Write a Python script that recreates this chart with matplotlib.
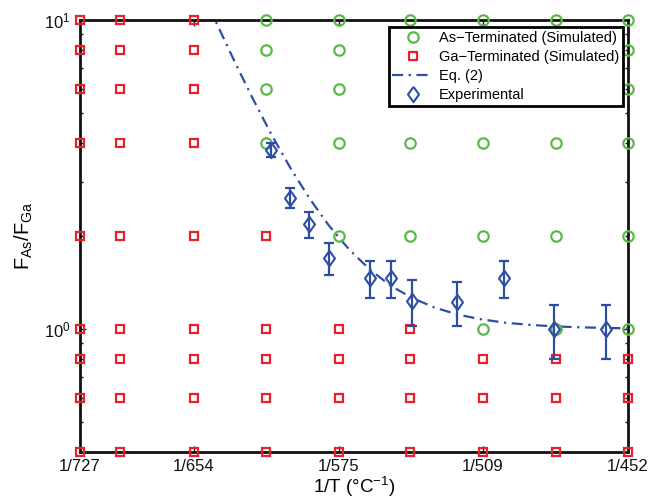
import numpy as np
import matplotlib
matplotlib.use("Agg")
import matplotlib.pyplot as plt
from matplotlib.ticker import FixedLocator, NullFormatter, FixedFormatter

plt.rcParams['font.family'] = ['Liberation Sans', 'DejaVu Sans']
plt.rcParams['mathtext.fontset'] = 'custom'
plt.rcParams['mathtext.rm'] = 'Liberation Sans'
plt.rcParams['mathtext.it'] = 'Liberation Sans:italic'

# ---- data ----
grid_T = [727, 700, 654, 613, 575, 541, 509, 479, 452]          # deg C
grid_F = [0.4, 0.6, 0.8, 1, 2, 4, 6, 8, 10]
as_lowest_F = [np.inf, np.inf, np.inf, 4, 2, 2, 1, 1, 1]        # lowest F that is As-terminated per column

exp_T = [610, 600, 590, 580, 560, 550, 540, 520, 500, 480, 460]
exp_F = [3.8, 2.66, 2.18, 1.70, 1.46, 1.46, 1.23, 1.22, 1.46, 1.00, 1.00]
exp_err = [0.2, 0.2, 0.21, 0.2, 0.2, 0.2, 0.21, 0.2, 0.2, 0.2, 0.2]

eq_T = [645, 640, 630, 620, 610, 600, 590, 580, 570, 560, 550, 540,
        530, 520, 510, 500, 490, 480, 470, 460, 452]
eq_F = [11.03, 9.59, 7.27, 5.54, 4.26, 3.33, 2.65, 2.16, 1.81, 1.56, 1.38, 1.26,
        1.174, 1.115, 1.076, 1.049, 1.032, 1.020, 1.013, 1.008, 1.005]

tick_T = [727, 654, 575, 509, 452]
tick_labels = ['1/727', '1/654', '1/575', '1/509', '1/452']


def inv(T):
    return 1000.0 / (np.asarray(T, dtype=float) + 273.0)


green = '#5cb947'
red = '#e8202a'
blue = '#2c4ea3'

diamond = [(0, 1), (0.72, 0), (0, -1), (-0.72, 0), (0, 1)]

fig = plt.figure(figsize=(6.5, 5), dpi=100)
ax = fig.add_axes([80 / 650, 48 / 500, 548 / 650, 432 / 500])

as_x, as_y, ga_x, ga_y = [], [], [], []
for T, lim in zip(grid_T, as_lowest_F):
    for F in grid_F:
        if F >= lim:
            as_x.append(inv(T)); as_y.append(F)
        else:
            ga_x.append(inv(T)); ga_y.append(F)

ax.plot(as_x, as_y, 'o', ms=7.5, mfc='none', mec=green, mew=1.6,
        clip_on=False, zorder=5, label='As\u2212Terminated (Simulated)')
ax.plot(ga_x, ga_y, 's', ms=6, mfc='none', mec=red, mew=1.6,
        clip_on=False, zorder=5, label='Ga\u2212Terminated (Simulated)')
ax.plot(inv(eq_T), eq_F, color=blue, lw=1.6, zorder=3, label='Eq. (2)',
        dashes=(5, 2.5, 1, 2.5))
ax.errorbar(inv(exp_T), exp_F, yerr=exp_err, fmt='none', ecolor=blue,
            elinewidth=1.6, capsize=3.5, capthick=1.6, zorder=6)
ax.plot(inv(exp_T), exp_F, marker=diamond, ls='none', ms=11, mfc='none', mec=blue, mew=1.5,
        zorder=6.5, label='Experimental')

ax.set_yscale('log')
ax.set_ylim(0.4, 10)
ax.set_xlim(inv(727), inv(452))
ax.yaxis.set_major_locator(FixedLocator([1, 10]))
ax.yaxis.set_major_formatter(FixedFormatter([r'$\mathregular{10^0}$', r'$\mathregular{10^1}$']))
ax.yaxis.set_minor_locator(FixedLocator([0.4, 0.5, 0.6, 0.7, 0.8, 0.9, 2, 3, 4, 5, 6, 7, 8, 9]))
ax.yaxis.set_minor_formatter(NullFormatter())
ax.set_xticks(inv(tick_T))
ax.set_xticklabels(tick_labels)

for s in ax.spines.values():
    s.set_linewidth(2)
    s.set_color('#111111')
ax.tick_params(which='both', direction='in', top=True, right=True, labelsize=12,
               width=1, colors='#111111')
ax.tick_params(which='major', length=4)
ax.tick_params(which='minor', length=2.5)
ax.tick_params(axis='y', which='major', pad=7)
ax.tick_params(axis='x', which='major', pad=5)

ax.set_xlabel('1/T (\u00b0C$^{\\mathregular{-1}}$)', fontsize=13.5, labelpad=1)
ax.set_ylabel(r'$\mathregular{F_{As}/F_{Ga}}$', fontsize=14.5, labelpad=6)

leg = ax.legend(loc='upper right', bbox_to_anchor=(1 - 5 / 548, 1 - 7 / 432),
                fontsize=10.5, fancybox=False, framealpha=1, edgecolor='black',
                borderpad=0.25, labelspacing=0.35, handlelength=2.8, handletextpad=0.4,
                borderaxespad=0)
leg.get_frame().set_linewidth(2)
leg.set_zorder(10)

fig.savefig('out.png', dpi=100)
